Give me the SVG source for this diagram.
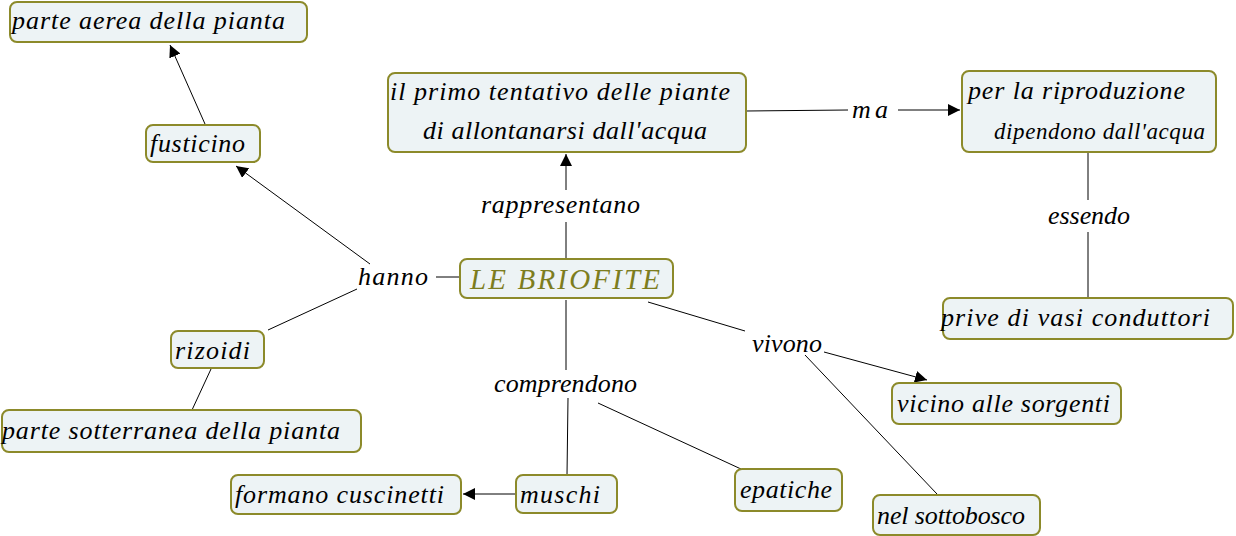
<svg xmlns="http://www.w3.org/2000/svg" width="1236" height="536" viewBox="0 0 1236 536">
<defs>
<style>
.n rect{fill:#edf3f5;stroke:#8c8a2a;stroke-width:2}
text{font-family:"Liberation Serif","DejaVu Serif",serif;font-style:italic;font-size:26px;fill:#000}
.t{fill:#7d7d1e;font-size:29px}
.s{font-size:23px}
.c line{stroke:#000;stroke-width:1}
.a{marker-end:url(#ar)}
</style>
<marker id="ar" viewBox="0 0 10 10" refX="10" refY="5" markerWidth="12" markerHeight="12" markerUnits="userSpaceOnUse" orient="auto"><path d="M0,0L10,5L0,10z" fill="#000"/></marker>
</defs>
<rect width="1236" height="536" fill="#fff"/>
<g id="connectors" class="c">
<line x1="566" y1="258" x2="566" y2="222"/>
<line class="a" x1="566" y1="190" x2="566" y2="154"/>
<line x1="746" y1="111" x2="848" y2="110"/>
<line class="a" x1="898" y1="110" x2="960" y2="110"/>
<line x1="1088" y1="153" x2="1088" y2="200"/>
<line x1="1088" y1="232" x2="1088" y2="297"/>
<line x1="459" y1="277" x2="436" y2="277"/>
<line class="a" x1="370" y1="264" x2="236" y2="166"/>
<line x1="357" y1="289" x2="268" y2="330"/>
<line class="a" x1="205" y1="124" x2="170" y2="45"/>
<line x1="211" y1="369" x2="192" y2="410"/>
<line x1="566" y1="300" x2="566" y2="370"/>
<line x1="568" y1="398" x2="567" y2="475"/>
<line x1="598" y1="403" x2="741" y2="469"/>
<line class="a" x1="516" y1="494" x2="463" y2="494"/>
<line x1="648" y1="302" x2="745" y2="331"/>
<line class="a" x1="824" y1="352" x2="927" y2="380"/>
<line x1="805" y1="355" x2="937" y2="494"/>
</g>
<g id="n1" class="n"><rect x="10" y="2" width="297" height="40" rx="7"/><text x="12" y="29" textLength="273" lengthAdjust="spacing">parte aerea della pianta</text></g>
<g id="n2" class="n"><rect x="146" y="125" width="114" height="37" rx="7"/><text x="150" y="152" textLength="95" lengthAdjust="spacing">fusticino</text></g>
<g id="n3" class="n"><rect x="388" y="73" width="358" height="79" rx="7"/><text x="390" y="100" textLength="340" lengthAdjust="spacing">il primo tentativo delle piante</text><text x="423" y="139" textLength="284" lengthAdjust="spacing">di allontanarsi dall'acqua</text></g>
<g id="n4" class="n"><rect x="962" y="71" width="254" height="81" rx="7"/><text x="968" y="99" textLength="217" lengthAdjust="spacing">per la riproduzione</text><text class="s" x="994" y="139" textLength="211" lengthAdjust="spacing">dipendono dall'acqua</text></g>
<g id="n5" class="n"><rect x="943" y="298" width="290" height="41" rx="7"/><text x="941" y="326" textLength="269" lengthAdjust="spacing">prive di vasi conduttori</text></g>
<g id="n6" class="n"><rect x="460" y="259" width="213" height="39" rx="7"/><text class="t" x="470" y="289" textLength="190" lengthAdjust="spacing">LE BRIOFITE</text></g>
<g id="n7" class="n"><rect x="892" y="383" width="229" height="41" rx="7"/><text x="897" y="412" textLength="213" lengthAdjust="spacing">vicino alle sorgenti</text></g>
<g id="n8" class="n"><rect x="873" y="495" width="167" height="40" rx="7"/><text x="877" y="524" textLength="148" lengthAdjust="spacing">nel sottobosco</text></g>
<g id="n9" class="n"><rect x="735" y="469" width="107" height="42" rx="7"/><text x="740" y="498" textLength="92" lengthAdjust="spacing">epatiche</text></g>
<g id="n10" class="n"><rect x="516" y="475" width="101" height="38" rx="7"/><text x="520" y="503" textLength="80" lengthAdjust="spacing">muschi</text></g>
<g id="n11" class="n"><rect x="231" y="475" width="230" height="39" rx="7"/><text x="235" y="503" textLength="209" lengthAdjust="spacing">formano cuscinetti</text></g>
<g id="n12" class="n"><rect x="171" y="331" width="93" height="37" rx="7"/><text x="175" y="359" textLength="75" lengthAdjust="spacing">rizoidi</text></g>
<g id="n13" class="n"><rect x="2" y="410" width="359" height="42" rx="7"/><text x="2" y="439" textLength="338" lengthAdjust="spacing">parte sotterranea della pianta</text></g>
<g id="labels">
<text x="481" y="213" textLength="159" lengthAdjust="spacing">rappresentano</text>
<text x="852" y="118" textLength="36" lengthAdjust="spacing">ma</text>
<text x="1048" y="224" textLength="82" lengthAdjust="spacing">essendo</text>
<text x="358" y="285" textLength="70" lengthAdjust="spacing">hanno</text>
<text x="752" y="352" textLength="70" lengthAdjust="spacing">vivono</text>
<text x="494" y="392" textLength="143" lengthAdjust="spacing">comprendono</text>
</g>
</svg>
